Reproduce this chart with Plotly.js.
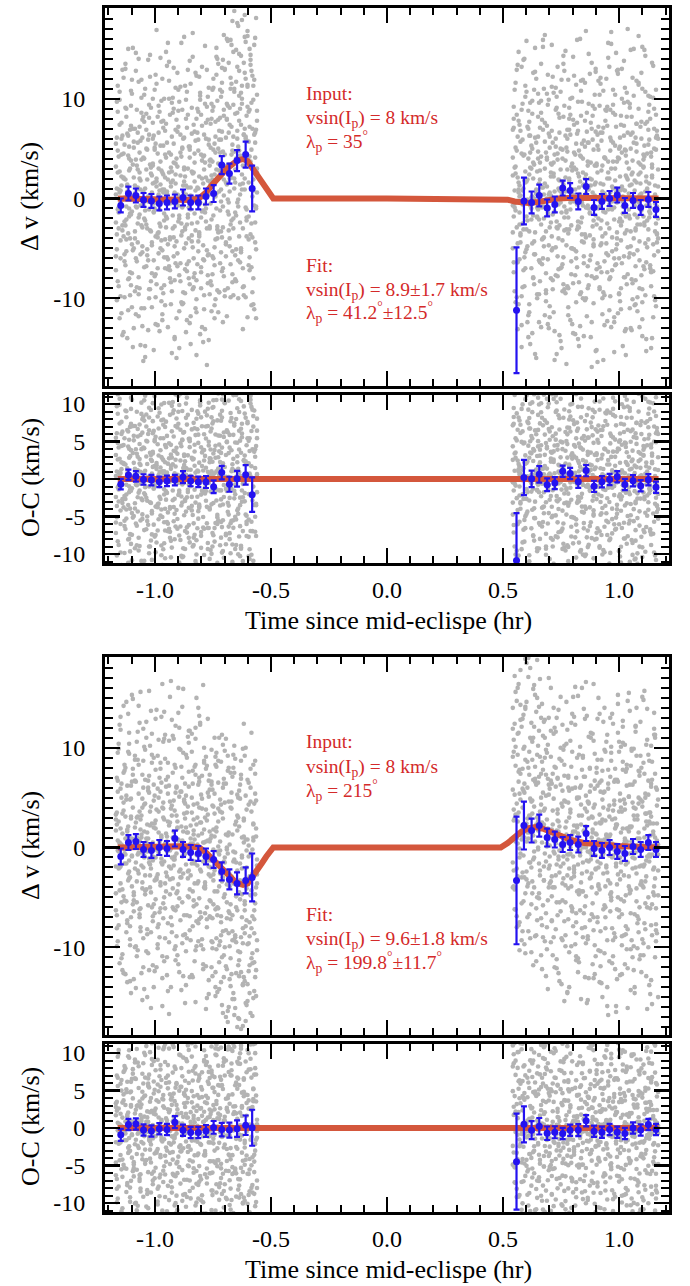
<!DOCTYPE html>
<html><head><meta charset="utf-8">
<script src="https://cdn.plot.ly/plotly-3.0.1.min.js"></script>
<style>html,body{margin:0;padding:0;background:#fff}</style>
</head><body><div id="chart" style="width:690px;height:1286px"></div>
<script>
// ---------------- DATA ----------------
const timesLeft = [-1.168,-1.164,-1.160,-1.156,-1.152,-1.148,-1.144,-1.140,-1.135,-1.131,
-1.127,-1.123,-1.119,-1.115,-1.111,-1.107,-1.103,-1.099,-1.095,-1.091,
-1.086,-1.082,-1.078,-1.074,-1.070,-1.066,-1.062,-1.058,-1.054,-1.050,
-1.046,-1.042,-1.037,-1.033,-1.029,-1.025,-1.021,-1.017,-1.013,-1.009,
-1.005,-1.001,-0.997,-0.993,-0.988,-0.984,-0.980,-0.976,-0.972,-0.968,
-0.964,-0.960,-0.956,-0.952,-0.948,-0.944,-0.939,-0.935,-0.931,-0.927,
-0.923,-0.919,-0.915,-0.911,-0.907,-0.903,-0.899,-0.895,-0.890,-0.886,
-0.882,-0.878,-0.874,-0.870,-0.866,-0.862,-0.858,-0.854,-0.850,-0.846,
-0.841,-0.837,-0.833,-0.829,-0.825,-0.821,-0.817,-0.813,-0.809,-0.805,
-0.801,-0.797,-0.792,-0.788,-0.784,-0.780,-0.776,-0.772,-0.768,-0.764,
-0.760,-0.756,-0.752,-0.748,-0.743,-0.739,-0.735,-0.731,-0.727,-0.723,
-0.719,-0.715,-0.711,-0.707,-0.703,-0.699,-0.694,-0.690,-0.686,-0.682,
-0.678,-0.674,-0.670,-0.666,-0.662,-0.658,-0.654,-0.650,-0.645,-0.641,
-0.637,-0.633,-0.629,-0.625,-0.621,-0.617,-0.613,-0.609,-0.605,-0.601,
-0.596,-0.592,-0.588,-0.584,-0.580,-0.576,-0.572,-0.568,-0.564,-0.560];

const timesRight = [0.542,0.546,0.550,0.554,0.559,0.563,0.567,0.571,0.575,0.580,
0.584,0.588,0.592,0.596,0.601,0.605,0.609,0.613,0.617,0.622,
0.626,0.630,0.634,0.638,0.643,0.647,0.651,0.655,0.659,0.664,
0.668,0.672,0.676,0.680,0.685,0.689,0.693,0.697,0.701,0.706,
0.710,0.714,0.718,0.722,0.727,0.731,0.735,0.739,0.743,0.748,
0.752,0.756,0.760,0.764,0.769,0.773,0.777,0.781,0.785,0.790,
0.794,0.798,0.802,0.806,0.811,0.815,0.819,0.823,0.827,0.832,
0.836,0.840,0.844,0.848,0.853,0.857,0.861,0.865,0.869,0.874,
0.878,0.882,0.886,0.890,0.895,0.899,0.903,0.907,0.911,0.916,
0.920,0.924,0.928,0.932,0.937,0.941,0.945,0.949,0.953,0.958,
0.962,0.966,0.970,0.974,0.979,0.983,0.987,0.991,0.995,1.000,
1.004,1.008,1.012,1.016,1.021,1.025,1.029,1.033,1.037,1.042,
1.046,1.050,1.054,1.058,1.063,1.067,1.071,1.075,1.079,1.084,
1.088,1.092,1.096,1.100,1.105,1.109,1.113,1.117,1.121,1.126,
1.130,1.134,1.138,1.142,1.147,1.151,1.155,1.159,1.163,1.168];

// Panel 1 (lambda = 35): six velocity measurements per exposure
const dv1LeftA = [3.2,-5.1,8.7,-1.4,0.6,-9.8,4.4,-2.7,12.1,-6.3,
1.9,-0.8,6.5,-11.2,2.8,-4.0,9.3,-7.5,0.2,5.7,
-3.3,14.6,-8.9,1.1,-1.9,7.2,-5.6,3.9,-12.8,0.7,
10.4,-2.2,-6.8,4.9,-0.3,8.1,-9.1,2.5,-4.7,6.0,
-15.2,1.6,-3.8,11.5,-7.0,3.0,-1.1,5.3,-10.3,0.9,
7.8,-5.9,2.1,-2.9,13.3,-6.1,4.6,-0.5,-8.4,9.6,
-1.7,3.6,-13.9,6.9,-4.3,0.4,10.9,-7.7,2.3,-2.5,
5.1,-9.4,16.2,-3.1,1.3,-6.6,8.4,-0.9,4.1,-11.8,
2.7,-4.9,7.4,-1.5,12.6,-8.2,0.1,5.9,-3.6,9.9,
-6.9,2.0,-14.4,4.3,-0.6,7.6,-5.2,1.8,11.1,-9.6,
3.9,-2.1,8.8,-6.0,5.5,-10.1,2.9,14.0,-3.4,6.8,
-1.2,10.2,-7.3,4.7,0.3,12.9,-4.6,7.9,-9.0,3.4,
9.1,-2.6,15.4,-5.3,6.2,1.0,-8.1,11.7,-0.4,17.3,
4.8,-6.4,10.6,2.4,-3.0,13.6,7.0,-9.9,5.8,16.8,
-1.8,8.9,3.7,-10.7,12.3,0.8,6.4,-4.4,18.1,2.6];
const dv1LeftB = [-2.4,6.1,-8.3,0.9,10.7,-4.2,2.2,-0.1,-13.4,5.4,
-6.7,9.0,1.4,-3.5,4.0,-9.7,7.3,-1.3,15.1,-5.0,
0.5,-11.6,3.3,6.6,-7.9,2.6,-0.7,11.9,-4.8,8.2,
-2.0,-14.8,5.0,0.0,-6.2,9.4,-3.2,3.1,-10.9,1.5,
6.3,-1.0,12.4,-8.6,4.5,-5.5,0.8,-2.8,7.7,-12.2,
2.4,10.0,-4.1,-0.2,5.6,-7.1,13.7,-3.9,1.2,-9.3,
8.6,-5.8,0.6,3.5,-16.0,6.7,-2.3,9.7,-6.5,4.2,
-0.9,-10.5,2.9,11.3,-4.5,7.1,-1.6,-8.0,5.2,0.3,
-3.7,14.2,-6.0,1.7,-11.0,8.0,-2.4,4.8,-0.6,10.3,
-7.4,3.8,-1.2,6.4,-13.1,2.1,9.2,-5.7,0.4,-3.0,
7.5,-8.7,1.9,12.0,-4.9,4.6,-1.0,9.8,-11.4,5.9,
2.8,-5.4,13.1,-0.8,8.3,-9.2,6.1,1.4,15.8,-3.2,
-4.0,11.0,4.4,-7.6,14.7,2.0,8.5,-1.7,6.8,-10.0,
12.8,0.4,-5.0,9.5,3.3,-8.8,18.4,6.0,-2.2,11.2,
1.6,-7.2,14.4,4.9,-3.9,9.9,-0.7,6.6,-12.0,3.0];
const dv1LeftC = [-7.2,1.0,4.8,-3.0,9.9,-0.4,-11.5,6.3,2.0,-5.6,
13.0,-2.1,0.7,-8.1,5.2,-1.5,10.8,-4.6,3.4,-13.0,
7.0,-0.8,-6.3,2.9,11.7,-9.0,1.8,-2.7,6.1,-16.3,
4.0,-1.2,8.5,-5.1,0.2,-10.0,14.4,-3.3,2.3,7.6,
-0.5,-7.8,5.5,1.2,-12.7,9.3,-2.5,3.7,-4.2,12.0,
-9.5,0.9,6.8,-1.8,-5.9,15.6,2.6,-8.0,4.4,-0.2,
10.1,-3.9,-14.1,1.5,7.9,-6.8,0.3,-2.0,11.2,-10.4,
5.0,-0.7,3.1,-7.1,8.0,-12.2,1.1,-4.0,13.8,-1.1,
6.5,-9.1,0.0,4.5,-3.2,-15.7,9.0,-5.3,2.2,10.6,
-1.9,7.3,-6.1,-11.1,3.6,0.6,12.9,-8.5,5.4,-2.8,
1.4,9.5,-5.8,4.9,-10.7,7.7,0.5,-3.1,13.5,2.8,
-6.5,5.9,11.6,-2.9,8.9,-9.8,3.2,16.0,-0.1,6.6,
-4.8,12.1,2.1,-8.4,9.4,4.7,-1.4,14.9,6.0,-6.2,
10.3,-2.4,7.4,17.9,-7.0,3.9,12.6,-0.9,8.3,-11.9,
5.7,15.0,-3.6,9.6,0.2,-8.0,11.9,4.1,-1.0,7.8];
const dv1LeftD = [5.5,-10.2,2.6,-0.9,7.4,-6.0,1.3,12.9,-3.8,0.1,
-2.7,8.2,-14.0,4.3,-1.0,6.9,-8.7,10.5,-5.2,2.1,
-9.3,3.9,0.9,-4.4,14.0,-1.6,5.8,-11.0,7.9,-0.5,
-6.9,11.0,-2.6,1.9,-13.2,6.4,-0.3,9.1,-7.5,3.3,
-1.4,5.1,-9.9,16.9,-3.5,0.4,8.7,-5.0,2.8,-11.6,
7.1,-2.2,-7.0,4.1,0.7,-12.9,10.0,-4.1,1.6,6.2,
-3.0,13.1,-8.2,2.4,-0.6,-5.5,8.8,-15.0,4.6,0.0,
-10.6,6.0,1.7,-2.9,9.9,-7.3,3.0,-0.2,-12.5,11.5,
-4.3,2.5,-8.9,6.7,0.8,12.3,-6.6,1.0,-3.4,-13.6,
8.4,-1.3,4.2,-9.7,15.3,-2.3,0.5,-7.7,5.9,3.8,
-8.3,2.3,10.9,-1.7,-12.0,6.2,15.1,-4.0,3.5,-9.4,
8.1,0.9,-3.9,13.9,-7.8,4.4,1.6,-11.8,9.3,-0.4,
2.0,-9.9,7.2,17.8,-2.0,10.7,-5.7,4.0,13.2,-0.8,
7.8,1.4,-5.4,11.3,-13.1,6.4,0.9,15.7,-3.8,9.2,
-6.7,4.2,13.4,-2.5,7.0,-10.6,2.9,16.1,-5.1,0.6];
const dv1LeftE = [0.4,-3.6,11.3,-8.8,2.7,-0.6,6.0,-13.7,4.5,-2.3,
9.1,-5.3,1.2,15.0,-1.8,-7.4,3.8,-10.9,7.0,0.0,
-4.0,12.8,-0.9,5.6,-9.6,2.0,-14.7,8.6,-2.9,4.1,
-11.0,1.0,6.9,-5.7,13.9,-1.1,3.4,-8.3,0.6,10.0,
-6.2,4.9,-12.6,1.7,8.2,-3.4,-0.2,14.1,-9.0,2.6,
5.3,-1.5,-10.7,7.5,0.5,-4.6,11.8,-7.2,3.1,-15.5,
1.8,9.0,-2.8,-6.5,4.0,12.6,-0.7,-11.3,6.4,-3.7,
8.9,0.7,-5.0,2.2,-13.4,10.7,-1.9,5.2,-8.6,1.1,
-2.5,16.6,-7.9,3.6,0.1,-10.1,6.6,-4.3,12.2,-0.4,
4.4,-12.9,1.5,-6.2,9.5,-1.0,-3.0,7.9,-14.2,3.3,
-0.5,8.0,-7.6,11.1,2.4,-4.1,14.2,-9.2,5.0,0.7,
10.9,-3.3,6.7,-12.4,1.9,13.0,-5.8,8.0,3.0,-1.6,
7.4,15.9,-2.2,4.8,-9.7,11.0,1.6,-5.1,17.6,5.2,
-3.8,9.0,14.3,0.9,-8.9,6.4,2.0,12.0,-1.1,16.3,
8.7,-5.9,3.3,12.8,-9.4,1.9,15.4,-2.4,6.9,10.4];
const dv1LeftF = [-5.8,9.7,-1.1,4.2,-12.0,0.8,7.6,-3.2,2.1,-9.9,
13.5,-4.1,0.3,6.3,-8.0,3.0,-1.6,11.9,-14.9,5.1,
1.3,-6.0,8.9,-2.5,-11.8,4.6,0.9,10.1,-5.4,-0.7,
7.7,-15.9,2.9,-3.0,5.9,-9.1,12.2,0.0,-4.4,3.5,
-1.3,10.9,-7.6,2.0,-3.9,6.6,-13.3,1.4,9.8,-5.2,
0.6,-8.7,4.4,14.7,-2.0,1.9,-6.8,8.4,-10.6,2.7,
-0.4,5.5,-4.8,11.1,-12.0,3.2,7.2,-1.7,-8.3,15.6,
-3.3,1.3,6.1,-9.5,0.4,-2.6,12.9,-6.3,4.9,-14.6,
9.1,-0.3,2.6,-7.5,5.8,-11.4,1.1,8.7,-3.8,0.2,
-9.0,13.2,-4.7,2.9,-1.4,6.0,-16.7,10.2,-5.6,1.7,
5.1,-11.3,3.7,9.2,-6.7,0.2,12.4,-2.8,7.9,-9.4,
4.6,-0.3,10.7,-7.0,16.4,2.7,-4.4,9.5,-1.3,13.6,
0.7,-6.6,11.5,5.4,-3.0,18.8,2.9,-8.3,8.6,-0.1,
14.5,4.3,-5.2,10.0,1.5,-9.7,16.2,6.2,-1.9,11.4,
-4.1,7.2,13.9,-6.9,3.0,11.3,-11.1,5.6,-0.8,8.8];
const dv1RightA = [4.1,-7.4,0.8,11.6,-2.9,6.2,-10.6,1.3,-4.4,8.9,
-0.6,13.9,-5.9,2.7,-1.8,-12.4,7.0,-3.3,4.6,0.1,
9.8,-8.0,3.4,-15.6,5.6,-0.9,10.5,-6.2,1.9,-2.6,
7.9,-4.0,0.4,16.4,-9.5,3.9,-1.4,6.5,-11.9,2.2,
-5.2,12.2,-0.2,4.4,-7.7,9.1,-3.0,1.0,-13.7,5.0,
0.7,-6.6,8.2,-1.9,14.8,-4.7,2.9,-9.0,6.9,-0.4,
-2.7,10.1,-8.5,3.1,0.0,-5.3,7.6,-14.1,4.8,1.7,
11.8,-3.6,-0.7,5.8,-10.2,2.4,8.6,-6.8,0.9,-1.5,
3.6,-16.9,9.3,-4.1,1.4,13.0,-7.1,5.3,-2.0,-8.9,
6.6,0.2,-3.8,10.8,-12.7,4.0,-0.1,7.3,-5.7,2.0,
-9.8,15.5,-1.1,3.7,-6.0,8.4,0.6,-4.6,12.5,-2.3,
5.2,-11.1,1.2,-0.8,9.6,-7.9,4.3,-3.2,17.0,0.5,
-5.5,6.4,-13.2,2.6,10.3,-1.6,-8.2,4.7,-0.3,11.4,
-4.3,1.5,7.7,-10.4,3.2,-2.4,14.3,-6.4,0.8,5.4,
-1.3,8.0,-15.0,2.3,-7.3,9.0,-0.5,4.9,-3.5,6.0];
const dv1RightB = [-3.4,9.2,-0.9,5.1,-11.3,2.1,7.8,-6.1,0.3,13.2,
-2.5,4.3,-8.8,1.6,10.7,-4.8,-0.4,6.3,-14.6,3.0,
8.5,-1.7,-5.6,12.7,0.9,-9.6,4.0,-2.1,7.1,-12.9,
1.1,15.9,-3.9,5.7,-7.5,0.0,9.4,-1.0,-10.8,3.5,
6.8,-5.0,2.5,-16.2,11.1,-2.9,4.5,-0.6,8.1,-7.0,
0.6,-4.2,13.5,-9.1,3.8,-1.2,6.0,-11.7,1.8,10.0,
-6.3,2.8,-0.2,7.4,-13.6,5.5,-3.1,9.7,-8.4,0.4,
4.2,-1.9,11.9,-5.8,2.0,-10.0,6.7,-0.7,14.5,-3.7,
1.3,-7.8,5.9,-2.2,9.0,-15.3,3.3,-0.1,7.2,-6.9,
12.1,-4.5,0.7,-9.4,4.1,-1.4,8.8,-12.3,2.6,-3.0,
6.1,16.7,-7.2,1.0,-0.9,10.4,-5.1,3.7,-11.5,5.0,
-2.0,8.3,-6.5,0.2,13.8,-3.5,4.8,-8.6,1.9,-1.1,
9.5,-13.0,2.4,6.6,-4.0,0.8,-10.6,7.5,-2.6,11.6,
-0.5,3.4,-7.7,15.2,-1.8,5.3,-9.7,2.2,-4.9,8.7,
1.5,-6.7,4.6,-14.0,0.1,7.0,-3.3,10.9,-0.8,-5.3];
const dv1RightC = [2.3,-6.4,10.9,-1.2,4.8,-13.1,0.6,7.4,-3.7,-9.8,
5.9,-0.3,14.0,-5.4,1.7,-2.2,8.8,-11.4,3.1,-7.0,
0.2,12.6,-4.3,6.1,-16.0,2.7,-1.1,9.6,-8.3,4.2,
-0.8,-6.0,11.0,1.5,-3.3,7.3,-12.6,0.4,5.1,-2.4,
15.4,-9.1,3.6,-0.6,-4.9,10.2,-7.8,1.9,6.6,-14.3,
-1.4,4.0,-8.6,12.8,0.7,-3.1,6.9,-10.9,2.0,8.4,
-5.0,0.9,-13.5,4.6,-0.2,11.4,-6.9,2.5,-2.9,16.0,
-9.4,5.5,1.3,-4.4,7.8,-0.9,-11.8,3.3,9.5,-6.2,
0.0,13.6,-2.8,4.9,-8.0,1.6,-15.2,6.4,-1.0,10.4,
-4.7,2.8,-10.0,7.1,0.5,-3.5,12.0,-7.4,3.7,-0.6,
8.9,-12.9,1.2,5.6,-2.1,-6.7,14.6,-0.4,4.1,-9.6,
2.2,-4.2,10.0,-14.8,6.3,0.8,-1.8,8.2,-7.6,3.0,
-11.0,5.0,-0.1,12.1,-5.6,1.8,-3.0,7.5,-9.9,16.3,
0.3,-2.6,6.0,-12.1,3.9,-7.1,10.7,-0.7,4.5,-4.1,
9.4,-1.5,-8.8,2.1,13.3,-5.7,0.4,-10.8,6.8,-2.0];
const dv1RightD = [-5.0,8.0,-0.5,3.2,-9.9,13.4,1.6,-2.6,6.8,-14.9,
0.8,-7.2,4.4,10.2,-3.1,1.9,-11.7,7.7,-0.7,5.3,
-4.5,2.0,-8.6,15.1,0.5,-1.9,6.2,-12.4,3.6,9.8,
-6.6,1.1,-2.0,7.6,-10.3,4.1,12.4,-4.7,0.6,-8.0,
3.4,-1.6,10.6,-13.3,5.2,0.0,-5.8,8.5,-2.7,2.9,
11.9,-9.3,1.4,-0.8,6.3,-16.6,4.7,-3.5,9.1,-1.1,
-7.6,3.5,14.2,-5.1,0.9,-10.4,6.5,-2.3,2.2,-12.8,
8.3,-0.4,4.0,-6.5,11.6,-3.9,1.0,-9.0,5.6,-1.4,
-13.9,7.0,0.1,-4.8,3.3,12.7,-7.9,2.6,-0.9,9.3,
-3.0,5.8,-11.6,1.4,-6.3,8.9,0.2,-2.5,15.6,-8.1,
4.8,-1.0,-5.3,10.9,-12.4,3.0,7.2,-4.0,0.7,-9.5,
6.1,-2.7,13.0,-0.3,-7.9,4.9,-15.7,2.1,9.7,-5.9,
1.3,-3.3,8.2,-10.1,5.6,-0.8,-6.8,11.8,-1.9,3.6,
-9.0,7.2,0.5,-13.8,4.4,14.9,-4.5,1.7,-2.2,6.9,
-0.6,10.2,-7.4,3.1,-11.9,5.0,-1.8,8.4,-4.4,1.2];
const dv1RightE = [-0.7,7.1,-9.3,2.5,12.9,-4.5,0.9,-1.4,5.7,-12.7,
9.5,-3.1,1.8,-7.0,15.8,-0.1,4.0,-10.6,6.3,-2.1,
-13.5,3.6,10.9,-5.6,0.5,-1.8,8.2,-9.6,2.8,13.5,
-4.1,6.9,-0.8,-11.7,4.6,1.2,-6.1,9.9,-2.9,0.3,
11.2,-8.2,2.2,-1.3,6.0,-15.6,3.9,-4.0,0.8,10.7,
-6.9,1.7,14.3,-3.2,-9.5,5.1,0.0,-1.9,8.0,-12.2,
3.2,-5.0,0.4,12.3,-7.7,2.9,-0.6,6.8,-14.8,4.3,
-2.4,9.7,-10.0,1.4,-3.6,16.8,-0.9,5.6,-8.7,2.0,
7.6,-12.4,0.6,-4.6,10.4,-1.7,3.5,-6.5,11.8,-9.1,
1.5,-2.2,6.6,-16.2,4.1,0.2,-5.5,9.2,-1.1,13.2,
-7.9,3.0,-0.3,8.6,-11.9,5.3,1.0,-3.4,12.9,-6.0,
0.8,-9.0,4.6,-1.5,7.3,-13.3,2.3,10.6,-4.9,0.0,
-2.0,14.9,-8.1,3.8,-0.5,-10.7,6.1,1.6,-5.2,9.0,
-12.9,2.6,-1.2,11.0,-6.8,4.2,0.7,-14.1,7.7,-3.1,
5.9,-0.9,-7.3,3.4,10.1,-9.8,1.3,-2.5,6.3,-4.0];
const dv1RightF = [6.9,-1.8,3.1,-10.4,8.4,-6.4,14.7,0.2,-3.5,4.5,
-8.9,1.0,-0.4,11.3,-5.1,7.2,-13.9,2.4,9.6,-1.0,
5.0,-7.9,0.0,-3.4,12.0,-10.0,4.7,1.5,-6.4,8.6,
-0.9,15.2,-4.8,3.0,-9.2,10.5,-1.6,-13.0,6.2,2.6,
-3.8,5.6,-11.4,0.7,8.9,-2.3,13.2,-7.1,1.8,-0.4,
-15.0,4.9,-5.9,9.3,2.1,-1.4,-8.8,11.9,-3.1,6.4,
0.9,-12.6,7.9,-0.3,4.4,-6.0,15.9,-2.8,1.1,-9.6,
10.8,-4.3,2.6,-13.8,5.2,0.5,-7.7,3.7,-1.0,12.5,
-5.7,1.9,8.3,-10.5,0.3,6.7,-2.6,-16.4,4.9,-0.8,
11.5,-7.4,3.3,-1.3,-9.7,7.8,-4.5,2.0,14.1,-11.2,
0.6,5.8,-3.9,9.4,-15.4,1.8,-6.6,12.8,-0.2,4.0,
-10.3,7.4,-2.3,0.9,-5.8,11.1,-13.1,3.6,6.6,-1.7,
9.1,-4.8,1.4,-8.5,15.0,-0.7,-3.2,5.5,-11.3,2.4,
-6.2,0.4,12.6,-9.1,3.1,-2.7,7.5,-15.3,1.0,10.3,
-1.9,-7.0,4.2,13.6,-4.6,0.0,-10.2,6.1,-3.6,2.9];

// Panel 3 (lambda = 215)
const dv3LeftA = [-4.6,2.3,9.5,-7.8,0.4,-1.9,6.4,-12.3,3.7,-0.2,
8.0,-5.4,1.8,13.4,-3.1,-9.2,4.9,-0.8,7.3,-6.4,
2.0,-14.1,10.6,-2.3,5.4,0.7,-8.0,3.2,-4.1,11.9,
-1.0,6.8,-10.4,1.5,-5.8,15.7,-2.8,4.1,0.1,-7.4,
9.0,-3.3,2.7,-12.0,5.9,-0.5,-6.5,8.5,1.2,-15.9,
3.9,-1.4,11.3,-4.4,0.6,7.1,-9.5,2.5,-2.1,12.8,
-6.0,4.7,-0.9,-11.3,6.1,1.9,-3.7,9.9,-7.3,0.3,
14.1,-2.6,3.4,-8.7,5.2,-0.1,-4.9,10.5,-13.0,2.2,
-1.6,7.7,-5.3,0.8,12.0,-9.9,4.4,-3.4,6.6,-0.7,
-7.0,1.4,16.3,-4.0,3.0,-11.9,8.2,-1.3,5.1,-6.9,
0.9,-9.4,4.2,-2.7,11.0,-6.2,1.6,-14.5,6.5,-3.9,
-0.3,8.6,-11.0,2.9,-5.0,9.7,-8.3,0.0,-16.4,4.6,
-6.6,7.5,-12.7,1.3,-3.6,10.2,-9.0,-1.5,5.3,-17.1,
2.1,-10.5,6.9,-4.7,-13.8,0.5,9.2,-7.9,-2.0,-15.4,
4.3,-8.9,-0.6,11.5,-11.6,1.0,-6.3,7.4,-14.9,-1.8];
const dv3LeftB = [1.7,-8.1,5.6,-0.4,12.3,-3.6,0.2,-10.7,7.5,-5.3,
3.1,-1.6,-13.5,9.6,-2.4,4.8,-7.0,0.9,14.9,-4.5,
6.7,-9.9,1.0,-0.7,8.3,-6.7,2.8,-12.6,4.0,-2.0,
10.1,-4.3,0.5,-15.0,6.0,-1.1,3.6,-8.5,11.4,-0.9,
-5.7,2.4,7.8,-3.2,-10.1,5.0,0.6,-6.1,13.1,-1.7,
4.5,-11.4,8.9,-2.5,1.1,-7.6,6.2,-0.3,-14.0,3.2,
-4.1,10.9,-1.2,5.5,-8.9,2.6,16.0,-5.1,0.0,-3.0,
7.0,-12.9,4.6,-0.6,9.3,-6.8,1.5,-2.3,11.7,-9.3,
3.5,0.4,-5.9,8.1,-15.5,2.3,-1.8,6.3,-7.2,12.5,
-0.1,4.9,-10.2,1.8,-3.5,7.9,-6.0,0.7,-13.3,5.8,
-2.9,9.8,-7.1,-0.2,5.4,-12.5,2.0,-4.4,8.7,-9.8,
3.6,-6.9,-15.8,6.0,-1.4,-10.0,10.9,-3.7,1.2,-8.6,
-13.2,4.0,-2.9,-9.3,8.0,-16.8,-0.5,-6.0,3.2,-11.8,
-4.5,6.3,-18.2,-1.0,-9.6,2.7,-13.4,5.2,-7.3,0.8,
-12.4,-3.1,7.9,-8.1,-0.2,-15.1,4.4,-5.6,1.9,-10.3];
const dv3LeftC = [3.3,-6.8,0.7,10.4,-2.0,5.9,-11.1,1.4,-4.9,8.3,
-0.1,14.6,-7.3,2.1,-1.3,-9.8,6.2,-3.9,4.0,-13.2,
8.8,0.3,-5.5,11.6,-2.6,3.6,-8.4,1.0,-15.3,6.0,
-0.8,9.8,-4.2,2.3,-10.6,7.2,-1.7,13.7,-6.0,0.5,
4.7,-12.4,1.9,-3.0,9.2,-7.7,0.0,5.6,-1.5,16.4,
-5.6,2.8,-9.1,6.8,-0.4,-14.4,10.7,-3.2,3.9,-1.0,
7.5,-6.2,0.9,12.2,-4.6,2.0,-11.7,5.1,-2.2,8.1,
-9.6,1.6,-0.6,6.4,-13.8,3.5,11.1,-5.0,0.2,-2.8,
9.6,-7.9,4.3,-1.4,-10.3,15.0,-3.6,1.2,7.0,-6.5,
2.5,-0.3,-12.2,8.7,-4.1,3.8,-8.0,12.9,-1.9,0.6,
-5.4,6.3,-10.1,1.8,-2.3,-14.9,8.1,-6.8,2.6,-0.7,
-9.4,4.3,-3.4,10.3,-13.0,-1.0,6.4,-7.1,-17.5,1.5,
-3.9,-11.1,5.5,-6.8,-0.4,-15.2,8.9,-9.5,-2.3,3.0,
-12.9,-5.2,7.3,-0.8,-17.9,2.9,-8.6,10.0,-4.1,-13.7,
0.2,-7.5,4.6,-11.1,-2.6,8.3,-14.4,-4.7,1.1,-9.3];
const dv3LeftD = [-1.9,7.0,-9.4,2.6,-4.3,11.8,0.3,-6.5,4.5,-0.6,
-12.7,5.2,1.6,-3.3,9.4,-7.9,2.9,15.3,-5.7,0.8,
-2.1,6.6,-10.9,3.1,-0.5,12.5,-6.1,1.3,-3.5,8.7,
-14.2,4.4,0.9,-8.2,5.7,-1.5,10.2,-4.5,2.4,-11.8,
6.3,-0.2,-5.2,13.8,-2.7,1.5,-9.0,7.9,-1.1,4.0,
-7.1,10.9,-3.6,0.1,-12.8,5.4,2.2,-4.7,16.7,-8.5,
1.0,-1.8,8.3,-6.3,3.2,-10.8,0.7,12.0,-3.0,5.6,
-0.9,-8.8,4.8,-15.6,2.0,9.0,-2.4,6.1,-6.9,0.4,
11.4,-4.4,1.7,-11.4,7.3,-0.7,3.0,-7.6,13.2,-2.2,
5.3,-9.2,0.5,8.5,-3.8,-16.2,2.7,-1.2,6.7,-5.3,
-2.0,-12.0,5.8,-5.7,1.1,9.1,-9.1,-1.5,3.9,-14.2,
0.6,-7.5,11.3,-3.0,-10.8,4.5,-17.0,-0.2,7.7,-6.4,
-2.7,-13.9,4.6,-8.4,9.3,-1.2,-16.1,2.6,-6.3,-10.4,
5.7,-3.3,-12.5,1.0,-8.1,12.4,-5.4,-15.6,-0.3,6.8,
-9.6,-2.9,-16.6,3.6,-6.9,0.7,-11.5,8.7,-4.0,-1.2];
const dv3LeftE = [2.8,-9.9,6.7,-2.1,0.5,13.1,-5.5,3.4,-12.6,7.7,
-0.7,4.8,-7.6,1.1,10.4,-3.0,-14.6,6.6,0.2,-4.8,
9.2,-1.5,3.0,-10.3,14.2,-6.2,1.8,-0.5,7.3,-12.0,
4.3,-2.8,11.0,-8.7,0.9,5.5,-4.0,-16.1,8.5,-1.3,
2.0,-6.6,12.9,-0.2,-9.7,3.6,7.0,-3.5,1.0,-13.1,
10.6,-5.0,0.4,6.1,-11.0,2.6,-1.9,15.1,-7.0,4.2,
-3.1,1.6,-10.2,8.0,-0.6,-5.9,13.5,-2.4,5.6,-14.3,
0.7,9.5,-6.8,2.9,-1.7,-9.1,4.1,11.7,-4.2,0.1,
-12.8,6.4,1.3,-3.6,8.3,-7.4,-0.8,14.0,-5.1,2.5,
-9.8,3.9,-1.4,10.0,-6.6,0.6,-15.1,5.5,-2.7,7.3,
-7.0,1.2,-12.9,4.1,-4.4,8.3,-10.2,-0.4,-6.1,11.0,
-2.6,-13.5,3.5,-8.4,6.4,-1.5,-11.9,-5.5,9.2,-16.0,
0.3,-7.2,-3.0,7.1,-14.6,-9.3,2.3,-4.9,-18.0,5.0,
-11.3,-1.6,8.7,-7.0,-13.7,1.1,-5.7,-17.4,3.8,-9.7,
-0.9,-14.6,6.0,-4.3,-10.6,2.4,-7.2,-13.0,4.7,-2.7];
const dv3LeftF = [-6.3,3.5,-0.3,9.9,-11.6,1.9,5.0,-4.2,14.2,-1.6,
0.9,-8.5,6.2,-2.6,11.5,-13.4,3.1,-0.9,7.9,-5.3,
-10.0,2.5,-3.4,8.8,0.4,-7.0,15.6,-1.8,4.9,-9.1,
1.6,-4.7,12.6,-0.4,6.7,-12.3,2.2,-2.1,9.3,-6.9,
-14.0,5.2,-1.0,3.8,-8.0,10.8,0.0,-3.8,6.5,-10.9,
3.0,13.6,-6.1,1.4,-2.9,8.5,-16.7,4.6,-0.1,-7.8,
11.2,-1.2,3.7,-9.9,6.0,-4.4,0.8,-12.5,9.8,2.1,
-5.5,15.9,-0.8,4.4,-10.4,1.5,-3.1,7.6,-8.3,0.9,
5.0,-13.0,2.8,-1.6,10.9,-5.7,0.3,-9.4,4.0,12.3,
-2.4,7.2,-11.7,0.5,-4.0,9.1,-7.2,3.3,-14.7,1.6,
-1.3,6.6,-9.5,-3.3,3.4,-14.0,9.5,-6.0,0.1,-11.5,
4.8,-8.8,-2.2,-16.6,6.9,-4.7,1.3,-12.2,-0.6,8.0,
-9.9,-5.7,3.9,-15.2,-1.4,7.5,-8.8,-12.6,1.7,-4.6,
-17.2,4.9,-9.0,-2.1,9.9,-13.0,-6.3,0.8,-15.8,-3.4,
6.5,-11.8,-4.8,-0.7,-16.9,2.3,-8.6,5.4,-12.3,-3.6];
const dv3RightA = [5.8,-3.9,12.4,0.6,-8.0,9.3,3.5,-1.0,17.8,-5.6,
7.9,2.3,-9.7,14.1,-2.4,6.0,0.9,-6.7,11.0,4.6,
-3.4,15.9,-0.4,8.1,-11.4,3.0,10.2,-5.1,1.8,13.0,
-7.8,5.5,-1.9,9.0,-12.9,2.8,6.9,-4.0,0.2,16.0,
-2.9,7.4,-9.0,1.1,11.6,-5.5,3.8,-0.9,-13.4,6.3,
0.4,-3.6,9.8,-7.4,2.0,14.6,-1.2,4.5,-10.5,0.8,
8.1,-6.1,1.6,-2.5,12.3,-8.6,5.0,-0.3,-4.7,10.1,
-15.2,3.2,-1.5,7.1,-5.9,0.0,13.2,-9.2,2.9,-3.1,
6.2,-0.8,-11.7,4.0,9.4,-2.2,1.3,-7.0,15.0,-4.2,
2.4,-13.6,7.7,-0.6,5.6,-8.1,0.5,11.3,-3.3,3.1,
-6.4,8.7,-1.0,-10.9,4.3,1.9,-16.5,6.8,-2.7,10.6,
-0.2,-5.2,3.6,12.7,-8.8,0.7,-1.7,7.9,-12.1,5.1,
2.1,-4.3,9.7,-0.5,-9.9,6.6,-2.0,14.0,-6.9,1.5,
-11.2,4.8,0.3,-3.8,8.5,-7.6,3.4,-1.3,10.8,-5.0,
2.6,-14.7,6.1,-0.7,-4.5,11.9,1.0,-8.3,4.2,-2.3];
const dv3RightB = [-1.5,10.8,2.9,-6.2,14.7,0.4,7.6,-10.3,4.8,-3.0,
12.9,-0.8,6.4,-4.6,18.5,1.5,-8.4,9.6,3.0,-2.0,
8.8,-11.8,4.1,0.6,13.6,-5.0,6.5,-1.6,16.9,-7.1,
2.5,11.2,-3.3,-9.4,7.3,0.1,-14.2,5.3,-0.9,9.1,
-4.9,3.7,-0.4,12.0,-8.2,1.7,6.9,-12.6,2.1,-1.9,
8.7,-5.3,0.9,-15.4,4.6,10.4,-2.8,-7.2,5.7,0.0,
-3.9,13.4,-0.9,2.2,-9.7,7.0,-4.4,1.4,-11.5,6.0,
0.5,-2.6,9.2,-6.6,3.9,16.6,-1.3,-8.9,4.4,-0.5,
11.5,-4.0,1.8,-13.1,5.9,-2.1,8.0,-7.5,0.8,3.3,
-10.4,6.7,-0.2,12.6,-5.8,2.7,-1.8,-14.0,7.8,1.1,
-3.6,9.5,-8.1,0.3,4.7,-12.2,2.3,-0.6,14.4,-6.3,
5.4,-2.4,-9.8,10.5,-0.1,3.8,-7.9,6.2,-16.1,1.6,
-4.2,8.2,0.6,-11.0,4.0,-1.1,12.2,-5.4,2.8,-8.5,
7.2,-0.3,-3.4,15.1,-10.8,1.9,5.0,-2.9,-6.0,9.3,
-1.4,3.5,-13.3,6.8,0.2,-4.8,11.0,-7.7,2.4,-0.7];
const dv3RightC = [9.1,-2.3,5.3,15.6,-6.9,2.6,11.5,-0.1,7.4,-9.3,
4.0,13.3,-3.0,8.8,0.6,-7.0,17.1,3.2,-1.5,10.9,
-4.6,6.8,12.1,-8.9,2.3,18.8,0.0,7.1,-2.8,5.0,
14.4,-5.8,3.7,-0.6,9.8,-10.2,1.9,6.3,-3.6,11.7,
-7.3,0.9,4.9,-12.0,8.0,-1.7,2.7,13.8,-5.5,0.3,
-9.1,5.7,-0.9,10.2,-3.8,1.3,-14.5,7.2,-2.1,3.5,
12.5,-6.4,0.8,-1.9,6.0,-10.9,2.2,15.2,-4.3,-0.5,
4.3,-8.1,9.0,1.6,-13.0,5.2,-2.4,0.5,11.1,-7.3,
-0.3,3.1,-5.6,16.4,-9.8,2.4,7.5,-1.4,-3.9,6.5,
-11.9,0.7,4.8,-2.6,9.8,-7.0,1.3,-15.9,5.9,-0.8,
13.0,-4.5,2.8,-9.3,0.2,7.9,-1.6,-6.2,11.5,3.6,
-12.8,1.5,-0.3,8.6,-5.4,4.4,-8.7,0.6,14.7,-2.9,
6.3,-10.2,2.1,-1.0,9.9,-14.6,3.9,-4.1,0.9,7.7,
-6.0,12.6,-1.8,4.1,-9.6,1.0,-3.4,10.3,-16.2,5.3,
-0.7,2.4,-7.8,8.6,-2.2,13.5,-11.0,0.4,5.8,-4.8];
const dv3RightD = [11.9,3.8,-4.2,8.2,0.9,16.0,-7.8,5.4,12.8,1.2,
-2.5,9.9,5.5,-10.6,14.6,2.9,-3.6,7.3,18.0,-5.7,
3.4,11.0,-1.0,6.9,-8.8,15.0,1.7,-4.6,9.1,4.3,
-12.2,7.8,2.3,12.8,-6.6,0.4,10.3,-2.1,5.9,-9.5,
1.8,-4.0,14.0,-0.6,6.1,-11.2,3.4,-1.2,8.9,-6.4,
0.1,12.3,-3.1,4.7,-9.9,1.1,-0.7,7.0,-14.0,3.8,
-5.9,9.6,0.6,-2.2,16.1,-7.5,2.0,-11.1,5.0,-0.3,
-3.5,7.8,-9.0,1.7,12.9,-4.9,0.3,-15.3,4.5,8.0,
-1.2,-6.7,3.0,10.7,-12.7,1.4,-0.1,6.2,-3.7,13.4,
-8.4,2.5,-0.8,5.5,-10.6,9.6,-2.0,1.0,-16.8,4.2,
7.1,-5.0,0.4,12.4,-8.6,2.9,-1.9,-13.2,6.6,0.0,
-3.2,10.1,-6.7,1.9,4.8,-11.7,0.6,8.3,-1.5,15.5,
-4.6,2.0,-9.3,6.3,-0.6,-14.0,11.6,-2.6,3.2,-7.2,
0.9,9.2,-12.5,4.6,-1.9,7.4,-5.6,2.6,13.9,-10.0,
3.5,-0.9,6.4,-8.8,1.3,-3.9,11.3,-6.1,0.5,-15.0];
const dv3RightE = [14.0,2.7,-6.2,10.1,4.4,-2.9,16.4,7.8,-0.6,12.1,
-8.4,5.7,1.0,13.9,-3.2,8.6,19.0,-1.5,4.9,-10.5,
10.6,1.2,-4.0,15.3,6.3,-7.3,2.6,11.7,-2.3,7.4,
0.5,-9.0,12.6,3.9,-1.4,9.5,-5.3,17.0,1.4,-3.4,
6.4,-10.8,0.9,8.1,-2.8,13.0,-6.8,2.6,-0.3,10.0,
-13.7,4.1,-1.6,7.2,-8.8,0.6,11.8,-4.1,3.0,-0.6,
-9.9,5.9,15.1,-2.9,1.6,-6.6,9.0,-12.5,3.2,-0.8,
6.2,-4.4,0.0,13.9,-8.0,2.1,-15.6,4.6,-1.4,7.9,
-3.0,1.0,11.4,-7.0,4.3,-10.9,0.2,8.8,-2.0,-13.5,
5.6,-0.9,2.8,-6.2,14.0,-3.9,1.2,-9.3,6.4,0.5,
-4.7,10.1,-11.6,3.7,-0.2,6.8,-15.9,2.3,-5.0,9.6,
-1.0,4.0,-8.9,12.1,-2.8,0.9,7.6,-10.2,1.9,-3.9,
13.7,-6.6,0.6,4.5,-12.3,2.8,-0.5,9.2,-7.6,5.0,
-1.9,-10.8,8.0,0.3,-4.0,15.7,-8.2,3.4,-0.9,6.7,
-13.8,1.2,10.2,-5.7,2.4,-2.0,7.4,-9.4,0.7,4.8];
const dv3RightF = [-4.0,9.6,17.2,3.3,-2.1,11.4,6.6,-7.5,14.3,0.8,
5.9,-5.4,10.1,18.9,2.4,-3.9,8.0,1.5,-9.1,12.5,
4.7,-1.2,16.3,6.6,-6.1,9.3,-0.2,14.1,3.6,-10.8,
8.6,2.0,-3.3,11.0,5.2,-8.0,0.8,13.0,-1.8,6.7,
-7.4,2.3,11.4,-4.0,0.4,-12.1,7.0,1.6,-2.5,15.1,
4.4,-9.3,0.1,8.3,-5.5,2.6,-14.6,6.0,-0.7,10.7,
-3.1,1.3,-7.9,13.1,0.6,-11.3,4.9,-1.7,9.3,-6.3,
2.3,16.0,-4.4,0.1,7.1,-9.6,3.6,-0.4,-13.1,5.6,
11.0,-2.6,1.5,-8.3,6.7,-0.8,-4.6,12.9,-10.3,2.5,
-1.6,8.8,-15.0,4.0,0.8,-6.0,10.6,-2.5,3.8,-11.4,
1.3,-5.3,13.4,-0.8,6.6,-9.0,2.1,-3.7,15.3,-7.0,
4.7,-1.5,-12.7,7.8,0.4,10.3,-4.8,1.9,-8.2,5.1,
-0.6,-14.3,9.9,-2.1,3.2,-6.7,12.1,0.2,-10.1,4.4,
7.6,-3.7,0.0,-9.2,14.8,-1.7,5.4,-12.9,2.2,-0.9,
8.7,-6.1,3.1,-15.7,1.6,11.3,-3.1,6.0,-8.6,0.3];

// Model curves (RM anomaly)
const model1X = [-1.16,-1.10,-1.00,-0.90,-0.85,-0.81,-0.78,-0.75,-0.72,-0.69,-0.66,-0.64,-0.62,-0.60,-0.58,-0.56,-0.54,-0.52,-0.50,-0.49,0.00,0.49,0.52,0.55,0.58,0.61,0.65,0.69,0.74,0.80,0.90,1.00,1.10,1.17];
const model1Y = [0.00,-0.05,-0.12,-0.17,-0.15,0.00,0.60,1.45,2.30,3.00,3.55,3.85,3.95,3.75,3.05,2.35,1.60,0.90,0.20,0.00,0.00,0.00,-0.12,-0.30,-0.45,-0.45,-0.35,-0.18,0.00,0.08,0.08,0.04,0.01,0.00];
const model3X = [-1.16,-1.10,-1.00,-0.90,-0.85,-0.81,-0.78,-0.75,-0.72,-0.69,-0.66,-0.64,-0.62,-0.60,-0.58,-0.56,-0.54,-0.52,-0.50,-0.49,0.00,0.49,0.52,0.55,0.58,0.61,0.64,0.67,0.70,0.75,0.80,0.85,0.90,1.00,1.10,1.17];
const model3Y = [0.00,0.05,0.10,0.12,0.10,0.00,-0.50,-1.20,-2.00,-2.70,-3.30,-3.60,-3.75,-3.60,-3.00,-2.30,-1.60,-0.90,-0.20,0.00,0.00,0.00,0.45,1.05,1.60,1.95,2.05,1.90,1.60,1.10,0.70,0.45,0.30,0.15,0.05,0.00];
const ocLineX = [-1.16, 1.17];
const ocLineY = [0, 0];

// Binned points
const bin1X = [-1.147,-1.114,-1.082,-1.049,-1.015,-0.981,-0.948,-0.914,-0.879,-0.846,-0.813,-0.780,-0.747,-0.712,-0.679,-0.646,-0.609,-0.581,
  0.558,0.590,0.623,0.656,0.690,0.723,0.757,0.789,0.824,0.858,0.892,0.926,0.959,0.992,1.025,1.060,1.093,1.126,1.159];
const bin1Y = [-0.7,0.5,0.3,-0.15,-0.25,-0.5,-0.4,-0.3,0.1,-0.4,-0.4,0.2,0.5,3.35,2.5,3.8,4.4,1.0,
  -11.2,-0.25,-0.4,0.3,-0.95,-0.6,1.05,0.8,-0.3,1.2,-0.9,-0.3,0.0,0.35,-0.7,-0.2,-0.9,-0.1,-1.1];
const bin1Err = [0.7,0.7,0.7,0.7,0.7,0.7,0.7,0.7,0.8,0.7,0.7,0.8,0.85,0.9,1.0,1.05,1.3,2.3,
  6.3,2.35,1.1,1.1,0.85,0.8,0.75,0.75,0.8,0.75,0.75,0.75,0.75,0.75,0.75,0.75,0.75,0.75,0.75];
const bin3X = bin1X;
const bin3Y = [-0.9,0.5,0.6,-0.2,-0.3,0.0,-0.1,0.9,-0.2,-0.5,-0.6,-0.9,-1.2,-2.4,-3.2,-3.6,-3.3,-3.0,
  -3.3,2.2,1.7,2.2,1.0,0.8,0.3,0.5,0.3,1.4,-0.1,-0.3,0.0,-0.4,-0.6,0.1,-0.2,0.5,-0.2];
const bin3Err = [0.8,0.75,0.75,0.75,0.75,0.75,0.75,0.8,0.75,0.75,0.75,0.8,0.85,0.9,1.0,1.1,1.3,2.4,
  6.4,2.4,1.2,1.1,0.9,0.8,0.75,0.75,0.8,0.75,0.75,0.75,0.75,0.75,0.75,0.75,0.75,0.75,0.75];

const xTickVals = [-1.0,-0.5,0.0,0.5,1.0];
const xTickText = ['-1.0','-0.5','0.0','0.5','1.0'];
const dvTickVals = [-10,0,10];
const dvTickText = ['-10','0','10'];
const ocTickVals = [-10,-5,0,5,10];
const ocTickText = ['-10','-5','0','5','10'];

// ---------------- DRAWING ----------------
function modelAt(mx, my, t) {
  if (t <= mx[0]) return my[0];
  for (let i = 1; i < mx.length; i++) {
    if (t <= mx[i]) {
      const f = (t - mx[i-1]) / (mx[i] - mx[i-1]);
      return my[i-1] + f * (my[i] - my[i-1]);
    }
  }
  return my[my.length-1];
}

const GRAY = '#b3b3b3', RED = '#d4573c', BLUE = '#2412f0', TXTRED = '#d42a2a';
const traces = [];

function addPanels(dvSets, mX, mY, bX, bY, bE, ax1, ax2) {
  const gx = [], gy = [], rx = [], ry = [];
  dvSets.forEach(s => {
    s.t.forEach((t, i) => {
      gx.push(t); gy.push(s.v[i]);
      rx.push(t); ry.push(s.v[i] - modelAt(mX, mY, t));
    });
  });
  const bR = bX.map((t, i) => bY[i] - modelAt(mX, mY, t));
  const mk = {size: 4.6, color: GRAY};
  traces.push({x: gx, y: gy, xaxis: ax1[0], yaxis: ax1[1], mode: 'markers', marker: mk, hoverinfo: 'skip'});
  traces.push({x: mX, y: mY, xaxis: ax1[0], yaxis: ax1[1], mode: 'lines', line: {color: RED, width: 6}, hoverinfo: 'skip'});
  traces.push({x: bX, y: bY, xaxis: ax1[0], yaxis: ax1[1], mode: 'markers',
    marker: {size: 7, color: BLUE},
    error_y: {type: 'data', array: bE, visible: true, color: BLUE, thickness: 2.2, width: 3}});
  traces.push({x: rx, y: ry, xaxis: ax2[0], yaxis: ax2[1], mode: 'markers', marker: mk, hoverinfo: 'skip'});
  traces.push({x: ocLineX, y: ocLineY, xaxis: ax2[0], yaxis: ax2[1], mode: 'lines', line: {color: RED, width: 6}, hoverinfo: 'skip'});
  traces.push({x: bX, y: bR, xaxis: ax2[0], yaxis: ax2[1], mode: 'markers',
    marker: {size: 7, color: BLUE},
    error_y: {type: 'data', array: bE, visible: true, color: BLUE, thickness: 2.2, width: 3}});
}

const L = timesLeft, R = timesRight;
addPanels([{t: L, v: dv1LeftA}, {t: L, v: dv1LeftB}, {t: L, v: dv1LeftC}, {t: L, v: dv1LeftD}, {t: L, v: dv1LeftE}, {t: L, v: dv1LeftF},
           {t: R, v: dv1RightA}, {t: R, v: dv1RightB}, {t: R, v: dv1RightC}, {t: R, v: dv1RightD}, {t: R, v: dv1RightE}, {t: R, v: dv1RightF}],
  model1X, model1Y, bin1X, bin1Y, bin1Err, ['x', 'y'], ['x2', 'y2']);
addPanels([{t: L, v: dv3LeftA}, {t: L, v: dv3LeftB}, {t: L, v: dv3LeftC}, {t: L, v: dv3LeftD}, {t: L, v: dv3LeftE}, {t: L, v: dv3LeftF},
           {t: R, v: dv3RightA}, {t: R, v: dv3RightB}, {t: R, v: dv3RightC}, {t: R, v: dv3RightD}, {t: R, v: dv3RightE}, {t: R, v: dv3RightF}],
  model3X, model3Y, bin3X, bin3Y, bin3Err, ['x3', 'y3'], ['x4', 'y4']);

const H = 1286, W = 690;
const FONT = '"Liberation Serif", "Times New Roman", Times, serif';
const py = p => 1 - p / H;
const xDom = [105 / W, 669 / W];

function xAxis(anchor, labels) {
  return {domain: xDom, anchor: anchor, range: [-1.215, 1.215], showgrid: false, zeroline: false,
    showline: true, linewidth: 3, linecolor: '#000', mirror: 'ticks',
    ticks: 'inside', ticklen: 15, tickwidth: 2.5, tickcolor: '#000',
    tickmode: 'array', tickvals: xTickVals, ticktext: xTickText, showticklabels: labels,
    ticklabelstandoff: 3,
    tickfont: {family: FONT, size: 24, color: '#000'},
    minor: {tickmode: 'linear', tick0: 0, dtick: 0.1, ticks: 'inside', ticklen: 7, tickwidth: 2, tickcolor: '#000', showgrid: false},
    automargin: false, fixedrange: true};
}
function yAxis(anchor, dom, range, tv, tt) {
  return {domain: dom, anchor: anchor, range: range, showgrid: false, zeroline: false,
    showline: true, linewidth: 3, linecolor: '#000', mirror: 'ticks',
    ticks: 'inside', ticklen: 15, tickwidth: 2.5, tickcolor: '#000',
    tickmode: 'array', tickvals: tv, ticktext: tt, ticklabelstandoff: 12,
    tickfont: {family: FONT, size: 24, color: '#000'},
    minor: {tickmode: 'linear', tick0: 0, dtick: 1, ticks: 'inside', ticklen: 8, tickwidth: 2, tickcolor: '#000', showgrid: false},
    automargin: false, fixedrange: true};
}

const OFF = 649;
const ann = [];
function txt(text, xpx, ypx, size, color) {
  ann.push({text: text, xref: 'paper', yref: 'paper', x: xpx / W, y: py(ypx), showarrow: false,
    xanchor: 'left', yanchor: 'middle',
    font: {family: FONT, size: size, color: color}});
}
function titleC(text, xpx, ypx, angle) {
  ann.push({text: text, xref: 'paper', yref: 'paper', x: xpx / W, y: py(ypx), showarrow: false,
    xanchor: 'center', yanchor: 'middle', textangle: angle,
    font: {family: FONT, size: 26, color: '#000'}});
}

[0, OFF].forEach(o => {
  titleC('Δ v (km/s)', 30, 197 + o, -90);
  titleC('O-C (km/s)', 30, 478 + o, -90);
  titleC('Time since mid-eclispe (hr)', 388, 620 + o, 0);
});
const lam = ['35', '215'];
const fitV = ['8.9±1.7', '9.6±1.8'];
const fitL = ['41.2<sup>°</sup>±12.5<sup>°</sup>', '199.8<sup>°</sup>±11.7<sup>°</sup>'];
[0, 1].forEach(k => {
  const o = k * OFF;
  txt('Input:', 304, 93 + o, 19.5, TXTRED);
  txt('vsin(I<sub>p</sub>) = 8 km/s', 304, 119 + o, 19.5, TXTRED);
  txt('λ<sub>p</sub> = ' + lam[k] + '<sup>°</sup>', 304, 141 + o, 19.5, TXTRED);
  txt('Fit:', 304, 265 + o, 19.5, TXTRED);
  txt('vsin(I<sub>p</sub>) = ' + fitV[k] + ' km/s', 304, 291 + o, 19.5, TXTRED);
  txt('λ<sub>p</sub> = ' + fitL[k], 304, 313 + o, 19.5, TXTRED);
});

const layout = {
  width: W, height: H, margin: {l: 0, r: 0, t: 0, b: 0}, showlegend: false,
  paper_bgcolor: '#fff', plot_bgcolor: '#fff', font: {family: FONT, color: '#000', size: 20},
  xaxis: xAxis('y', false),
  yaxis: yAxis('x', [py(386), py(8)], [-18.8, 19.1], dvTickVals, dvTickText),
  xaxis2: xAxis('y2', true),
  yaxis2: yAxis('x2', [py(563), py(395)], [-11.2, 11.2], ocTickVals, ocTickText),
  xaxis3: xAxis('y3', false),
  yaxis3: yAxis('x3', [py(386 + OFF), py(8 + OFF)], [-18.8, 19.1], dvTickVals, dvTickText),
  xaxis4: xAxis('y4', true),
  yaxis4: yAxis('x4', [py(563 + OFF), py(395 + OFF)], [-11.2, 11.2], ocTickVals, ocTickText),
  annotations: ann
};

Plotly.newPlot('chart', traces, layout, {staticPlot: true, displayModeBar: false});
</script></body></html>
